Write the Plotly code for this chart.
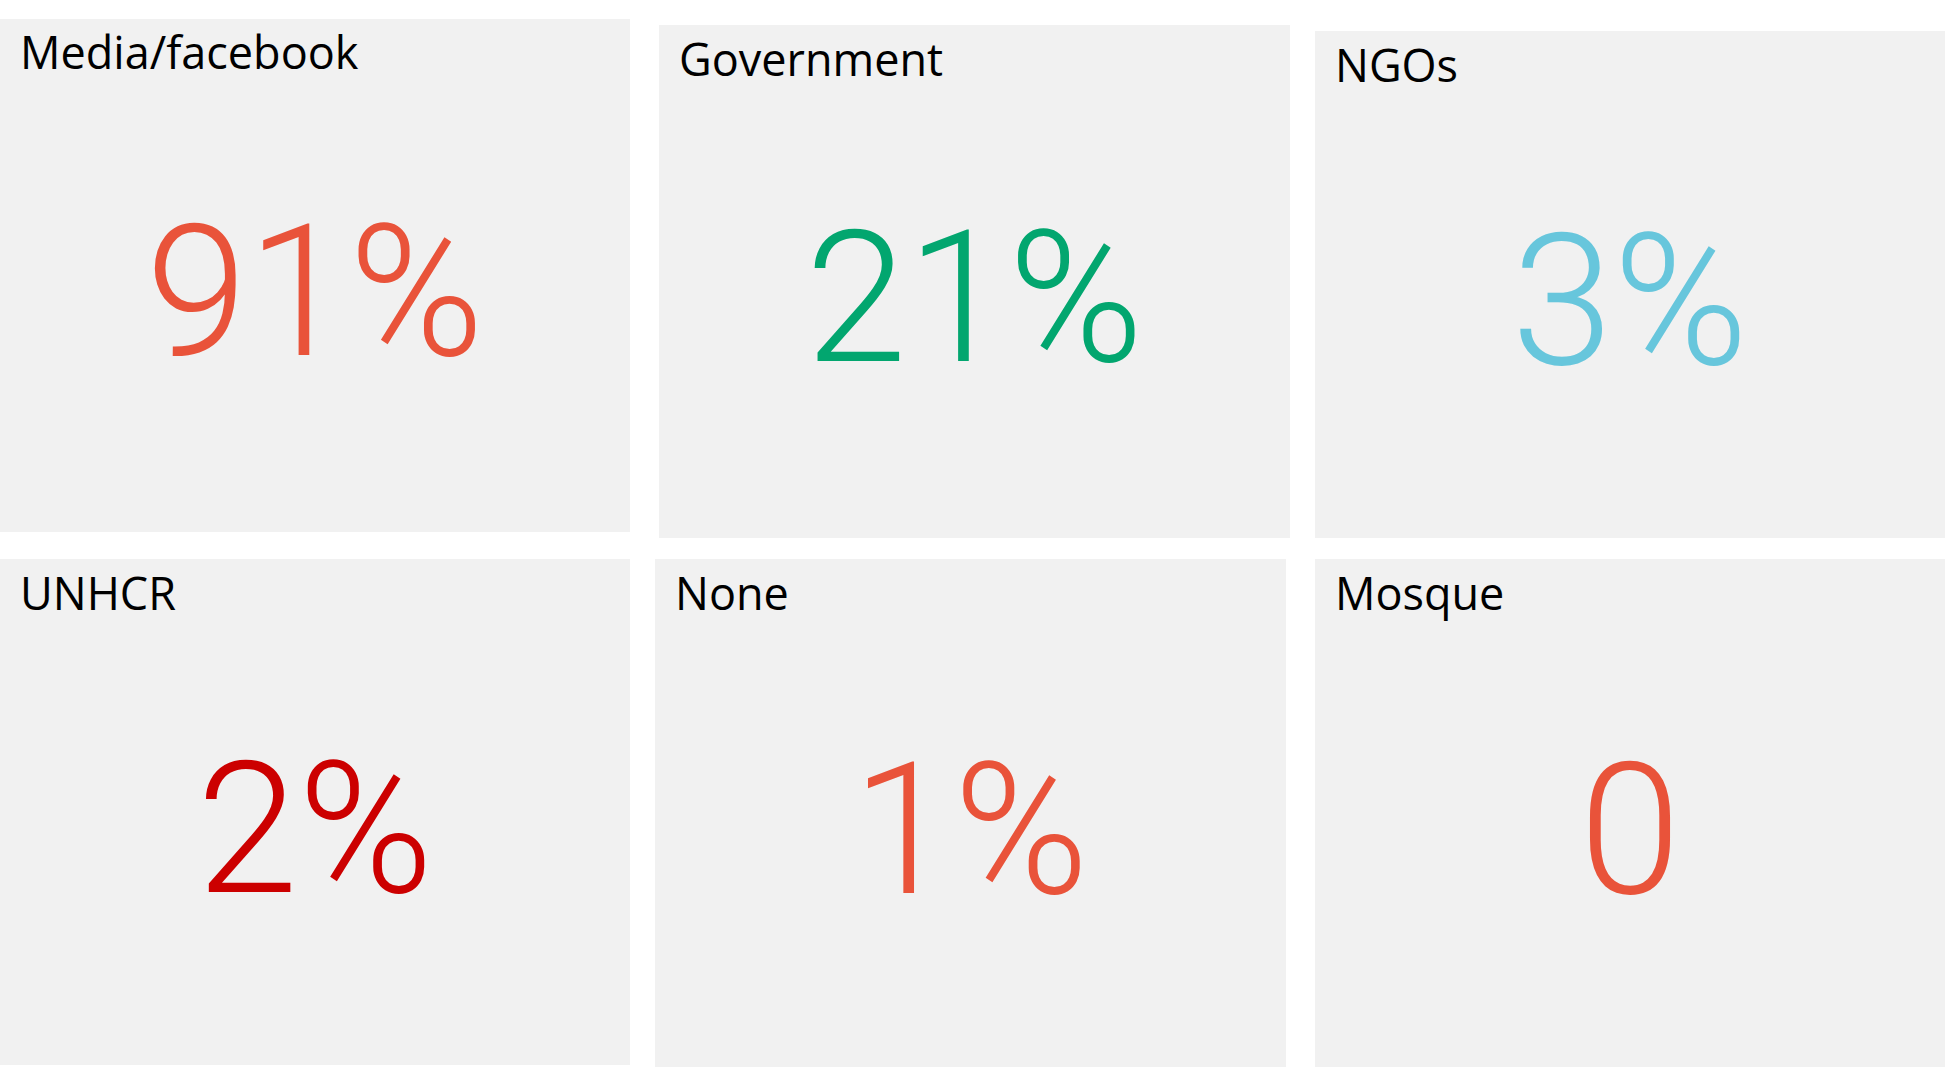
import plotly.graph_objects as go

# KPI cards: label, value, suffix shown after the number, colour of the number
labels = ["Media/facebook", "Government", "NGOs", "UNHCR", "None", "Mosque"]
values = [91, 21, 3, 2, 1, 0]
suffixes = ["%", "%", "%", "%", "%", ""]
colors = ["#E9533A", "#02A66F", "#67C6DC", "#CC0000", "#E9533A", "#E9533A"]

W, H = 1945, 1067

# card boxes in pixels (x0, x1, y0, y1), measured from the top-left corner
boxes = [
    (0, 630, 19, 532),
    (659, 1290, 25, 538),
    (1315, 1945, 31, 538),
    (0, 630, 559, 1065),
    (655, 1286, 559, 1067),
    (1315, 1945, 559, 1067),
]


def px(x):
    return x / W


def py(y):
    return 1 - y / H


fig = go.Figure()
shapes = []
annotations = []

for i, (x0, x1, y0, y1) in enumerate(boxes):
    shapes.append(dict(type="rect", xref="paper", yref="paper",
                       x0=px(x0), x1=px(x1), y0=py(y1), y1=py(y0),
                       fillcolor="#F1F1F1", line=dict(width=0), layer="below"))
    # big number, centered in the card below the title
    fig.add_trace(go.Indicator(
        mode="number",
        value=values[i],
        number=dict(suffix=suffixes[i],
                    font=dict(family="Roboto, Arial, sans-serif", size=183,
                              color=colors[i], weight=300)),
        domain=dict(x=[px(x0), px(x1)], y=[py(y1), py(y0 + 34)]),
    ))
    annotations.append(dict(text=labels[i], xref="paper", yref="paper",
                            x=px(x0 + 18), y=py(y0 + 33),
                            xanchor="left", yanchor="middle", showarrow=False,
                            font=dict(family="Segoe UI, Open Sans, sans-serif",
                                      size=45, color="#000000")))

fig.update_layout(
    width=W, height=H,
    margin=dict(l=0, r=0, t=0, b=0),
    paper_bgcolor="white",
    shapes=shapes,
    annotations=annotations,
)

# no page margin, so the figure starts in the window corner
fig.write_html("out.html", config={"displayModeBar": False},
               post_script="document.body.style.margin='0';")
